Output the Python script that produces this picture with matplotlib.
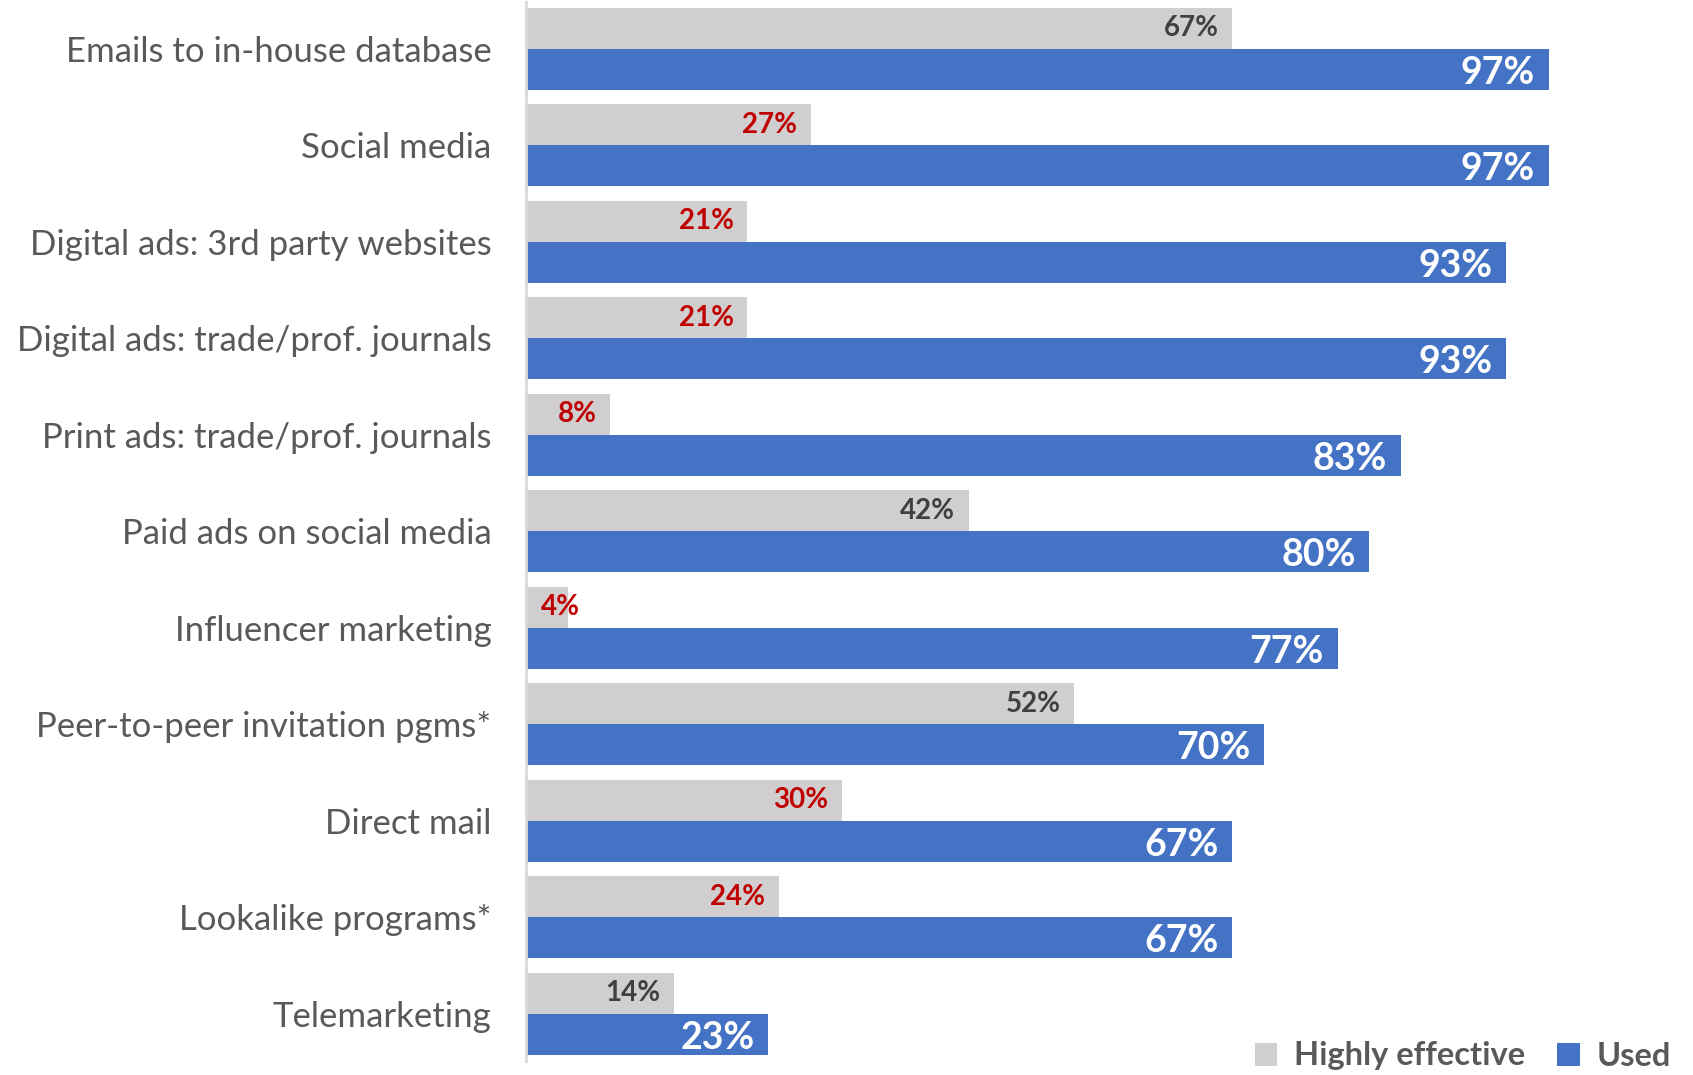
import matplotlib
matplotlib.use("Agg")
import matplotlib.pyplot as plt
from matplotlib.patches import Patch

categories = [
    "Emails to in-house database",
    "Social media",
    "Digital ads: 3rd party websites",
    "Digital ads: trade/prof. journals",
    "Print ads: trade/prof. journals",
    "Paid ads on social media",
    "Influencer marketing",
    "Peer-to-peer invitation pgms*",
    "Direct mail",
    "Lookalike programs*",
    "Telemarketing",
]
highly_effective = [67, 27, 21, 21, 8, 42, 4, 52, 30, 24, 14]
used = [97, 97, 93, 93, 83, 80, 77, 70, 67, 67, 23]
# effectiveness labels shown in red (low share relative to usage)
red_flag = [False, True, True, True, True, False, True, False, True, True, False]

GRAY = "#D0CECE"
BLUE = "#4472C4"
RED = "#C00000"
DARK = "#404040"
TEXT = "#595959"

plt.rcParams["font.family"] = ["Lato", "DejaVu Sans"]

W, H = 1693, 1075
fig = plt.figure(figsize=(W / 100, H / 100), dpi=100)
ax_left = 526 / W
ax = fig.add_axes([ax_left, 14 / H, 1 - ax_left, 1059 / H])

bh = 0.425
ys = list(range(len(categories)))
ax.barh([y - bh / 2 for y in ys], highly_effective, height=bh, color=GRAY, zorder=2)
ax.barh([y + bh / 2 for y in ys], used, height=bh, color=BLUE, zorder=2)

ax.set_xlim(0, 110.7)
ax.set_ylim(10.49, -0.483)

for y, v, r in zip(ys, highly_effective, red_flag):
    if v < 6:
        ax.text(1.4, y - bh / 2, f"{v}%", ha="left", va="center",
                fontsize=20, fontweight="bold", color=RED if r else DARK)
    else:
        ax.text(v - 1.3, y - bh / 2, f"{v}%", ha="right", va="center",
                fontsize=20, fontweight="bold", color=RED if r else DARK)

for y, v in zip(ys, used):
    ax.text(v - 1.3, y + bh / 2 + 0.035, f"{v}%", ha="right", va="center",
            fontsize=27, fontweight="bold", color="white")

ax.set_yticks(ys)
ax.set_yticklabels(categories, fontsize=25, color=TEXT)
ax.tick_params(axis="y", length=0, pad=25)
ax.set_xticks([])
for s in ["top", "right", "bottom"]:
    ax.spines[s].set_visible(False)
ax.spines["left"].set_color("#D9D9D9")
ax.spines["left"].set_linewidth(2)

handles = [Patch(facecolor=GRAY), Patch(facecolor=BLUE)]
leg = fig.legend(handles, ["Highly effective", "Used"], loc="center right",
                 bbox_to_anchor=(1671 / W, 1 - 1056 / H), ncol=2, frameon=False,
                 handlelength=0.7, handleheight=0.7, handletextpad=0.5,
                 columnspacing=1.0, borderaxespad=0, borderpad=0,
                 prop={"size": 23.5, "weight": "bold"})
for t in leg.get_texts():
    t.set_color(TEXT)

fig.savefig("out.png", dpi=100)
